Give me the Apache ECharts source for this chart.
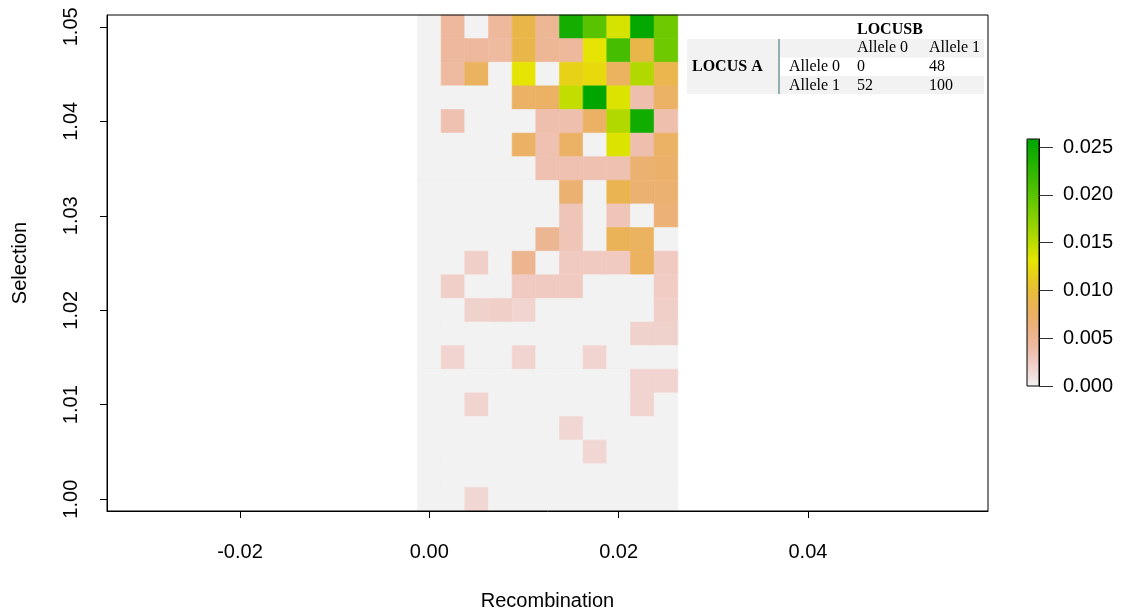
<!DOCTYPE html>
<html>
<head>
<meta charset="utf-8">
<script src="https://cdn.jsdelivr.net/npm/echarts@6/dist/echarts.min.js"></script>
<style>
html,body{margin:0;padding:0;background:#fff;}
#chart{width:1122px;height:616px;}
</style>
</head>
<body>
<div id="chart"></div>
<script>
// ---- data ----
var recombination = [0, 0.0025, 0.005, 0.0075, 0.01, 0.0125, 0.015, 0.0175, 0.02, 0.0225, 0.025];
var selection = [1.0, 1.0025, 1.005, 1.0075, 1.01, 1.0125, 1.015, 1.0175, 1.02, 1.0225, 1.025,
                 1.0275, 1.03, 1.0325, 1.035, 1.0375, 1.04, 1.0425, 1.045, 1.0475, 1.05];
// rows listed from selection = 1.05 (top) down to 1.00 (bottom)
var densityRows = [
  [0, 0.0045, 0, 0.0045, 0.0090, 0.0048, 0.0243, 0.0200, 0.0138, 0.0255, 0.0188], // 1.05
  [0, 0.0045, 0.0045, 0.0043, 0.0090, 0.0048, 0.0045, 0.0130, 0.0211, 0.0090, 0.0188], // 1.0475
  [0, 0.0043, 0.0078, 0, 0.0130, 0, 0.0118, 0.0124, 0.0078, 0.0155, 0.0088], // 1.045
  [0, 0, 0, 0, 0.0075, 0.0075, 0.0147, 0.0258, 0.0135, 0.0036, 0.0075], // 1.0425
  [0, 0.0034, 0, 0, 0, 0.0036, 0.0036, 0.0075, 0.0155, 0.0247, 0.0036], // 1.04
  [0, 0, 0, 0, 0.0075, 0.0034, 0.0075, 0, 0.0135, 0.0036, 0.0075], // 1.0375
  [0, 0, 0, 0, 0, 0.0034, 0.0034, 0.0034, 0.0034, 0.0068, 0.0072], // 1.035
  [0, 0, 0, 0, 0, 0, 0.0068, 0, 0.0086, 0.0068, 0.0068], // 1.0325
  [0, 0, 0, 0, 0, 0, 0.0030, 0, 0.0030, 0, 0.0065], // 1.03
  [0, 0, 0, 0, 0, 0.0050, 0.0030, 0, 0.0082, 0.0078, 0], // 1.0275
  [0, 0, 0.0022, 0, 0.0052, 0, 0.0026, 0.0026, 0.0026, 0.0078, 0.0026], // 1.025
  [0, 0.0022, 0, 0, 0.0026, 0.0026, 0.0026, 0, 0, 0, 0.0024], // 1.0225
  [0, 0, 0.0020, 0.0022, 0.0018, 0, 0, 0, 0, 0, 0.0022], // 1.02
  [0, 0, 0, 0, 0, 0, 0, 0, 0, 0.0020, 0.0020], // 1.0175
  [0, 0.0018, 0, 0, 0.0018, 0, 0, 0.0018, 0, 0, 0], // 1.015
  [0, 0, 0, 0, 0, 0, 0, 0, 0, 0.0018, 0.0018], // 1.0125
  [0, 0, 0.0018, 0, 0, 0, 0, 0, 0, 0.0018, 0], // 1.01
  [0, 0, 0, 0, 0, 0, 0.0016, 0, 0, 0, 0], // 1.0075
  [0, 0, 0, 0, 0, 0, 0, 0.0016, 0, 0, 0], // 1.005
  [0, 0, 0, 0, 0, 0, 0, 0, 0, 0, 0], // 1.0025
  [0, 0, 0.0016, 0, 0, 0, 0, 0, 0, 0, 0]  // 1.00
];
var xTicks = [-0.02, 0, 0.02, 0.04];
var yTicks = [1.00, 1.01, 1.02, 1.03, 1.04, 1.05];
var colorbarTicks = [0, 0.005, 0.01, 0.015, 0.02, 0.025];
var colorMax = 0.02584;

var tableTitleCol = 'LOCUSB';
var tableTitleRow = 'LOCUS A';
var tableColHeaders = ['Allele 0', 'Allele 1'];
var tableRowHeaders = ['Allele 0', 'Allele 1'];
var tableValues = [[0, 48], [52, 100]];

// ---- helpers ----
function hsv2hex(h, s, v) {
  var i = Math.floor(h * 6), f = h * 6 - i;
  var p = v * (1 - s), q = v * (1 - f * s), t = v * (1 - (1 - f) * s);
  var r, g, b;
  switch (((i % 6) + 6) % 6) {
    case 0: r = v; g = t; b = p; break;
    case 1: r = q; g = v; b = p; break;
    case 2: r = p; g = v; b = t; break;
    case 3: r = p; g = q; b = v; break;
    case 4: r = t; g = p; b = v; break;
    default: r = v; g = p; b = q;
  }
  function hx(c) { var s2 = Math.round(c * 255).toString(16); return s2.length < 2 ? '0' + s2 : s2; }
  return '#' + hx(r) + hx(g) + hx(b);
}
function seq(a, b, n) { var o = []; for (var i = 0; i < n; i++) o.push(n === 1 ? a : a + (b - a) * i / (n - 1)); return o; }
function terrainColors(n) {
  var k = Math.floor(n / 2);
  var cols = [];
  var h1 = seq(4/12, 2/12, k), s1 = seq(1, 1, k), v1 = seq(0.65, 0.9, k);
  for (var i = 0; i < k; i++) cols.push(hsv2hex(h1[i], s1[i], v1[i]));
  var m = n - k + 1;
  var h2 = seq(2/12, 0, m), s2 = seq(1, 0, m), v2 = seq(0.9, 0.95, m);
  for (var j = 1; j < m; j++) cols.push(hsv2hex(h2[j], s2[j], v2[j]));
  return cols;
}
var palette = terrainColors(64).reverse();

var cellData = [];
for (var r = 0; r < densityRows.length; r++) {
  var yv = selection[selection.length - 1 - r];
  for (var c = 0; c < recombination.length; c++) {
    cellData.push([recombination[c], yv, densityRows[r][c]]);
  }
}
var dx = recombination[1] - recombination[0];
var dy = selection[1] - selection[0];

var FONT = 'Liberation Sans, Arial, sans-serif';
var SERIF = 'Liberation Serif, Times New Roman, serif';

// table graphics
var tblGraphics = [];
tblGraphics.push({type:'rect', shape:{x:687, y:39, width:92, height:55}, style:{fill:'#F2F2F2'}, z:50});
tblGraphics.push({type:'rect', shape:{x:779, y:39, width:205, height:18.5}, style:{fill:'#F2F2F2'}, z:50});
tblGraphics.push({type:'rect', shape:{x:779, y:76, width:205, height:18}, style:{fill:'#F2F2F2'}, z:50});
tblGraphics.push({type:'line', shape:{x1:779, y1:39, x2:779, y2:94}, style:{stroke:'#8FB0AF', lineWidth:2}, z:51});
function tText(txt, x, y, bold) {
  return {type:'text', x:x, y:y, z:52, style:{text:String(txt), fill:'#000', font:(bold ? 'bold ' : '') + '16px ' + SERIF, textAlign:'left', textVerticalAlign:'middle'}};
}
tblGraphics.push(tText(tableTitleCol, 857, 30, true));
tblGraphics.push(tText(tableTitleRow, 692, 67, true));
var colX = [857, 929];
var rowY = [67, 86];
for (var i2 = 0; i2 < 2; i2++) {
  tblGraphics.push(tText(tableColHeaders[i2], colX[i2], 48, false));
  tblGraphics.push(tText(tableRowHeaders[i2], 789, rowY[i2], false));
  for (var j2 = 0; j2 < 2; j2++) {
    tblGraphics.push(tText(tableValues[i2][j2], colX[j2], rowY[i2], false));
  }
}

var chart = echarts.init(document.getElementById('chart'), null, {renderer:'canvas'});
var option = {
  backgroundColor: '#ffffff',
  animation: false,
  grid: [
    {left:107, right:134, top:15, bottom:105, show:true, borderColor:'#000', borderWidth:1, backgroundColor:'transparent', z:10},
    {left:1027, top:139, width:12, height:247, show:true, borderColor:'#000', borderWidth:1, backgroundColor:'transparent', z:10}
  ],
  xAxis: [
    {type:'value', gridIndex:0, min:-0.03405, max:0.05902, z:10,
     name:'Recombination', nameLocation:'middle', nameGap:80,
     nameTextStyle:{fontFamily:FONT, fontSize:20, color:'#000'},
     axisLine:{show:true, onZero:false, lineStyle:{color:'#000', width:1}},
     axisTick:{show:true, inside:false, length:7, lineStyle:{color:'#000'}, customValues:xTicks},
     axisLabel:{show:true, margin:31, fontFamily:FONT, fontSize:20, color:'#000', customValues:xTicks,
       formatter:function(v){return v.toFixed(2);}},
     splitLine:{show:false}},
    {type:'value', gridIndex:1, show:false, min:0, max:1}
  ],
  yAxis: [
    {type:'value', gridIndex:0, min:0.99875, max:1.05125, z:10,
     name:'Selection', nameLocation:'middle', nameGap:77, nameRotate:90,
     nameTextStyle:{fontFamily:FONT, fontSize:20, color:'#000'},
     axisLine:{show:true, onZero:false, lineStyle:{color:'#000', width:1}},
     axisTick:{show:true, inside:false, length:7, lineStyle:{color:'#000'}, customValues:yTicks},
     axisLabel:{show:true, rotate:90, margin:26, fontFamily:FONT, fontSize:20, color:'#000', customValues:yTicks,
       formatter:function(v){return v.toFixed(2);}},
     splitLine:{show:false}},
    {type:'value', gridIndex:1, position:'right', min:0, max:colorMax, z:10,
     axisLine:{show:true, onZero:false, lineStyle:{color:'#000', width:1}},
     axisTick:{show:true, inside:false, length:14, lineStyle:{color:'#333'}, customValues:colorbarTicks},
     axisLabel:{show:true, margin:24, fontFamily:FONT, fontSize:20, color:'#000', customValues:colorbarTicks,
       formatter:function(v){return v.toFixed(3);}},
     splitLine:{show:false}}
  ],
  visualMap: {
    type:'continuous', seriesIndex:0, dimension:2, min:0, max:colorMax,
    left:1027, top:139, itemWidth:12, itemHeight:247, padding:0,
    calculable:false, hoverLink:false, text:null, showLabel:false,
    inRange:{color:palette}, z:5
  },
  series: [{
    type:'custom',
    coordinateSystem:'cartesian2d',
    xAxisIndex:0, yAxisIndex:0,
    encode:{x:0, y:1},
    data: cellData,
    renderItem: function(params, api) {
      var x = api.value(0), y = api.value(1);
      var p0 = api.coord([x - dx/2, y + dy/2]);
      var p1 = api.coord([x + dx/2, y - dy/2]);
      var col = api.visual('color');
      return {type:'rect', shape:{x:p0[0], y:p0[1], width:p1[0]-p0[0], height:p1[1]-p0[1]},
              style:{fill:col, stroke:col, lineWidth:0.6}};
    }
  }],
  graphic: tblGraphics
};
chart.setOption(option);
</script>
</body>
</html>
